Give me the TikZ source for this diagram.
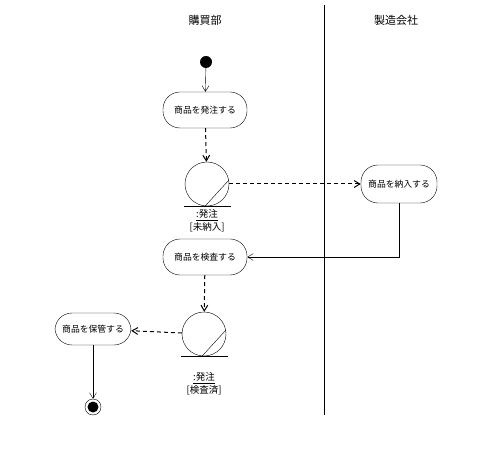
\documentclass[tikz,border=0pt]{standalone}
\usepackage{fontspec}
\newfontfamily\jafont{Noto Sans CJK JP}
\usetikzlibrary{positioning,arrows.meta,calc}

\begin{document}
\begin{tikzpicture}[x=1pt, y=-1pt,
    act/.style={draw, rounded corners=17pt, minimum width=84pt, minimum height=36pt, font=\jafont\fontsize{8.8}{9}\selectfont, inner sep=1pt},
    obj/.style={draw, circle, minimum size=44pt, inner sep=0pt},
    objlbl/.style={align=center, font=\jafont\fontsize{9.5}{12.5}\selectfont},
    lane/.style={font=\jafont\fontsize{11}{12}\selectfont},
    flow/.style={-{Straight Barb[length=2mm, width=2.4mm]}, thin},
    oflow/.style={flow, line width=1pt, dash pattern=on 4pt off 3pt}]
  \useasboundingbox (0,0) rectangle (482,454);
  % レーン
  \node[lane] (buy) at (205,20) {購買部};
  \node[lane] (maker) at (396,20) {製造会社};
  \draw (324,5) -- (324,415);
  % アクティビティ
  \node[fill=black, circle, minimum size=12pt, inner sep=0pt] (start) at (206,62) {};
  \node[act] (order) at (205,110) {商品を発注する};
  \node[act, minimum width=76pt, minimum height=38pt] (deliver) at (399,184) {商品を納入する};
  \node[act] (inspect) at (205,257) {商品を検査する};
  \node[act, minimum width=76pt, minimum height=32pt] (store) at (93,329) {商品を保管する};
  \node[draw, circle, minimum size=16pt, inner sep=0pt] (end) at (93,407) {};
  \fill (end) circle (5.5pt);
  % オブジェクト
  \node[obj] (obj1) at (207,184) {};
  \draw (obj1.-95) -- (obj1.10);
  \draw ($(obj1.south)+(-23,0)$) -- ($(obj1.south)+(24,0)$);
  \node[objlbl] (lbl1) at (207,221) {\underline{:発注}\\{[未納入]}};
  \node[obj] (obj2) at (204,334) {};
  \draw (obj2.-95) -- (obj2.10);
  \draw ($(obj2.south)+(-23,0)$) -- ($(obj2.south)+(24,0)$);
  \node[objlbl] (lbl2) at (204,384) {\underline{:発注}\\{[検査済]}};
  % 流れ
  \draw[flow] (start) -- (order);
  \draw[oflow] (order) -- (obj1);
  \draw[oflow] (obj1) -- (deliver);
  \draw[flow] (deliver.south) |- (inspect.east);
  \draw[oflow] (inspect) -- (obj2);
  \draw[oflow] (obj2) -- (store);
  \draw[flow] (store) -- (end);
\end{tikzpicture}
\end{document}
